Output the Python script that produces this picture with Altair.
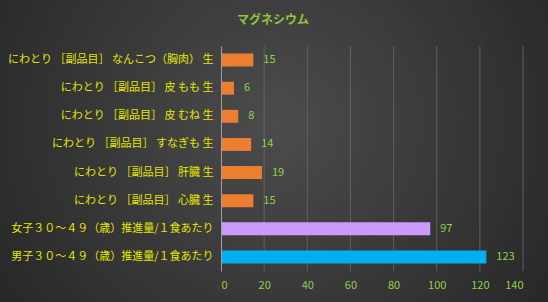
import altair as alt
import pandas as pd

categories = [
    "にわとり ［副品目］ なんこつ（胸肉） 生",
    "にわとり ［副品目］ 皮 もも 生",
    "にわとり ［副品目］ 皮 むね 生",
    "にわとり ［副品目］ すなぎも 生",
    "にわとり ［副品目］ 肝臓 生",
    "にわとり ［副品目］ 心臓 生",
    "女子３０～４９（歳）推進量/１食あたり",
    "男子３０～４９（歳）推進量/１食あたり",
]
values = [15, 6, 8, 14, 19, 15, 97, 123]
colors = ["#ED7D31"] * 6 + ["#CC99FF", "#00B0F0"]
ticks = [0, 20, 40, 60, 80, 100, 120, 140]

df = pd.DataFrame({"cat": categories, "val": values, "color": colors})
tdf = pd.DataFrame({"t": ticks[1:]})

W, H = 302, 225
PL, PT, PR, PB = 221, 46, 25, 31

font = "Noto Sans CJK JP"
xscale = alt.Scale(domain=[0, 140])

bg = alt.Chart(pd.DataFrame({"a": [0]})).mark_rect(
    fill=alt.RadialGradient(
        gradient="radial", x1=0.5, y1=0.45, x2=0.5, y2=0.45, r1=0.0, r2=0.75,
        stops=[alt.GradientStop(offset=0, color="#4c4c4c"),
               alt.GradientStop(offset=1, color="#1e1e1e")],
    )
).encode(
    x=alt.value(-PL), x2=alt.value(W + PR), y=alt.value(-PT), y2=alt.value(H + PB)
)

grid = alt.Chart(tdf).mark_rule(color="#6a6a6a", strokeWidth=0.8).encode(
    x=alt.X("t:Q", scale=xscale)
)

xenc = alt.X("val:Q", scale=xscale,
             axis=alt.Axis(values=ticks, title=None, grid=False, zindex=1,
                           domain=False, ticks=False, labelColor="#92D050",
                           labelFont=font, labelFontSize=11, labelPadding=8))
yenc = alt.Y("cat:N", sort=categories,
             scale=alt.Scale(paddingInner=0.54, paddingOuter=0.27),
             axis=alt.Axis(title=None, labelColor="#E6E600", labelFont=font,
                           labelFontSize=11, labelPadding=8, ticks=False, zindex=1,
                           domain=True, domainColor="#a0a0a0", labelLimit=300))

bars = alt.Chart(df).mark_bar().encode(
    x=xenc, y=yenc, color=alt.Color("color:N", scale=None)
)
labels = alt.Chart(df).mark_text(align="left", dx=10, color="#92D050",
                                 font=font, fontSize=11).encode(
    x="val:Q", y=alt.Y("cat:N", sort=categories), text="val:Q"
)

chart = alt.layer(bg, grid, bars, labels).properties(
    width=W, height=H,
    title=alt.Title("マグネシウム", anchor="start", frame="group", dx=16, offset=-27,
                    color="#8DC63F", font=font, fontSize=12, fontWeight="bold"),
    autosize=alt.AutoSizeParams(type="none"),
    padding={"left": PL, "top": PT, "right": PR, "bottom": PB},
).configure(background="#2a2a2a").configure_view(stroke=None)

chart.save("out.html", embed_options={"renderer": "svg", "actions": False})
